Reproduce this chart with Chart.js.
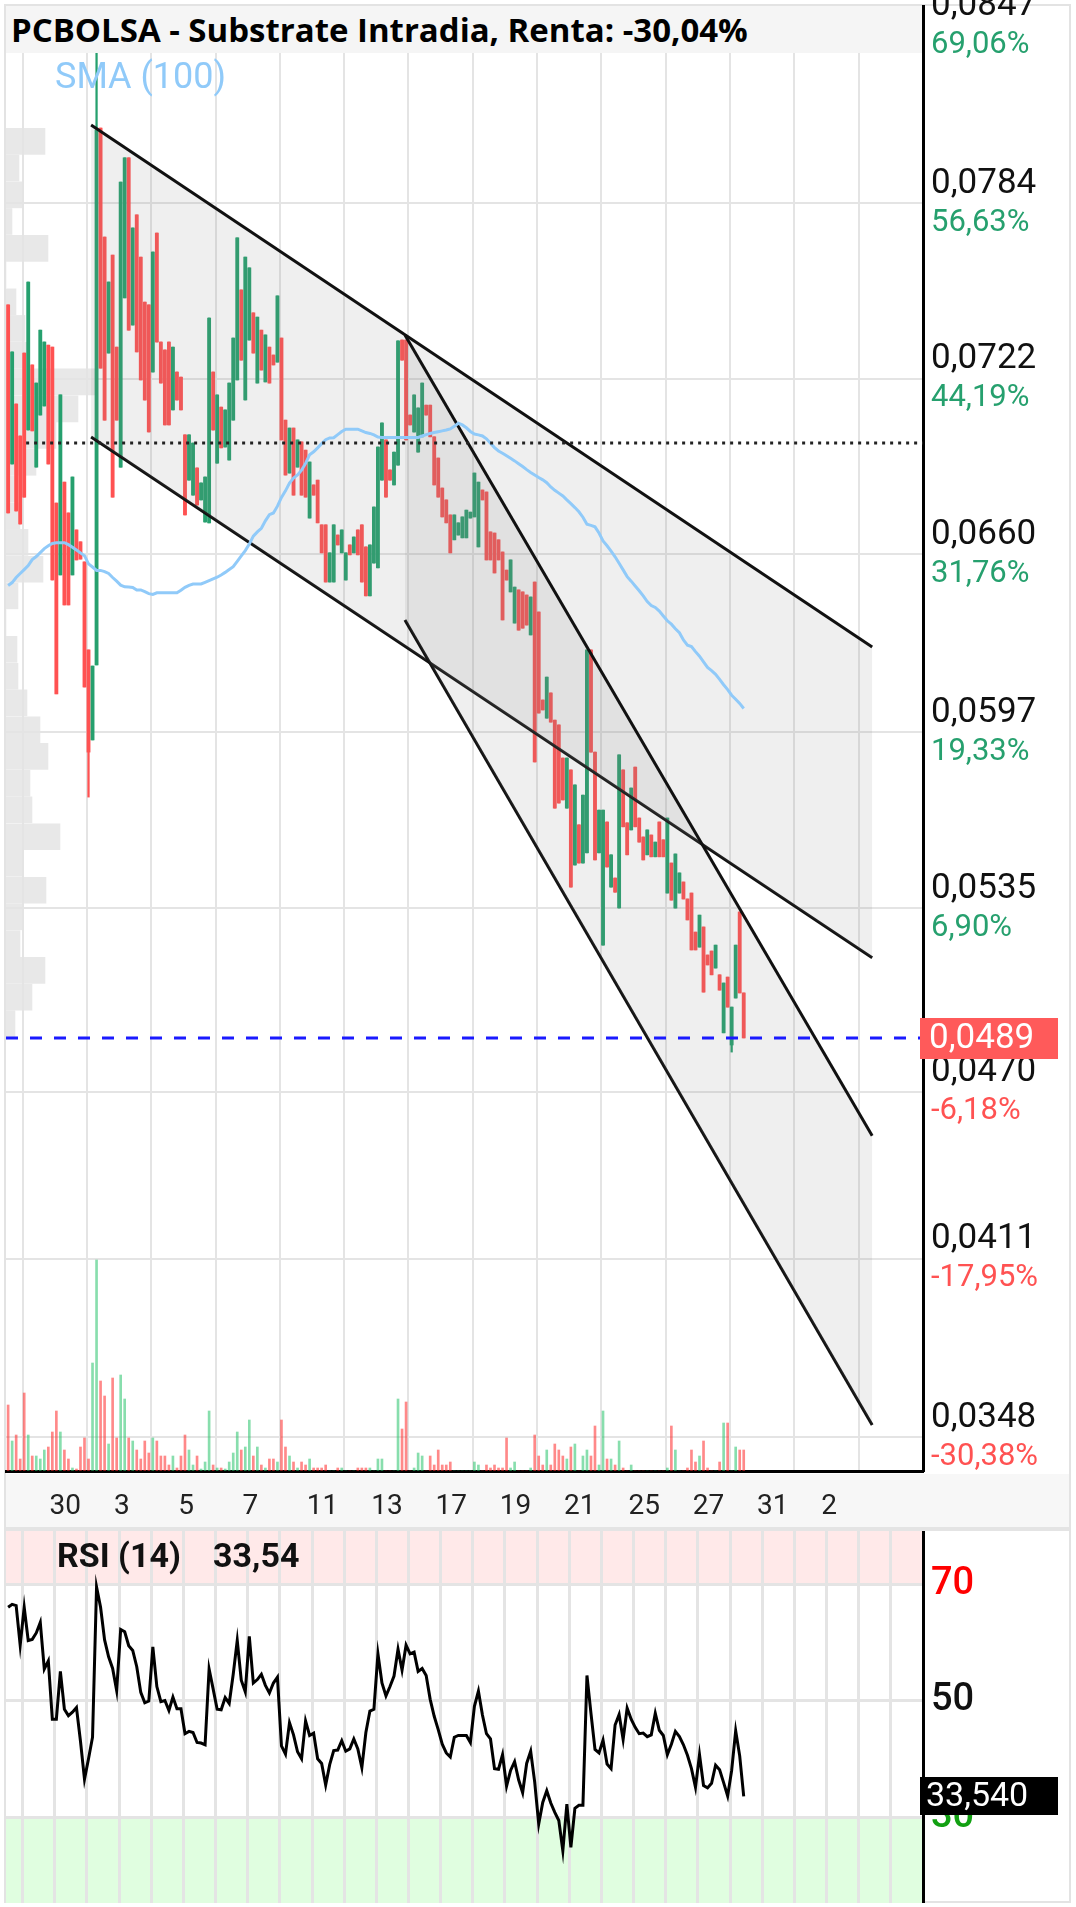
<!DOCTYPE html>
<html>
<head>
<meta charset="utf-8">
<title>PCBOLSA - Substrate Intradia</title>
<script src="https://cdn.jsdelivr.net/npm/chart.js@4.4.1/dist/chart.umd.min.js"></script>
<style>
  html, body { margin:0; padding:0; background:#fff; }
  body { position:relative; width:1076px; height:1907px; overflow:hidden; font-family:Roboto, sans-serif; }
  .abs { position:absolute; }
  #frame { left:4px; top:4px; width:1067px; height:1899px; border:2px solid #e3e3e3; box-sizing:border-box; }
  #xstrip { left:6px; top:1474px; width:1063px; height:53px; background:#f7f7f7; }
  #sep { left:6px; top:1527px; width:1063px; height:4px; background:#e4e4e4; }
  #profile { left:6px; top:6px; }
  #main { left:0; top:0; }
  #rsi { left:0; top:1531px; }
  #title { left:6px; top:6px; width:916px; height:47px; background:#f5f5f5; }
  #titleText { position:absolute; left:5px; top:0; line-height:47px; font-family:'Open Sans'; font-weight:700; font-size:28px; color:#000; white-space:nowrap; }
  #smaLabel { left:55px; top:58px; font-family:Roboto; font-size:36px; line-height:36px; color:rgb(144,202,249); white-space:nowrap; }
  #rsiLabel { left:57px; top:1538px; font-family:Roboto; font-weight:700; font-size:34px; line-height:34px; color:#111; white-space:nowrap; }
  #rsiValue { left:213px; top:1538px; font-family:Roboto; font-weight:700; font-size:34px; line-height:34px; color:#111; white-space:nowrap; }
</style>
</head>
<body>
<div id="frame" class="abs"></div>
<div id="xstrip" class="abs"></div>
<div id="sep" class="abs"></div>
<canvas id="profile" class="abs" width="917" height="1465"></canvas>
<canvas id="main" class="abs" width="1076" height="1527"></canvas>
<canvas id="rsi" class="abs" width="1076" height="372"></canvas>
<div id="title" class="abs"><span id="titleText">PCBOLSA - Substrate Intradia, Renta: -30,04%</span></div>
<div id="smaLabel" class="abs">SMA (100)</div>
<div id="rsiLabel" class="abs">RSI (14)</div>
<div id="rsiValue" class="abs">33,54</div>
<script>
// ---------------- DATA ----------------
const xLabels = ['30','3','5','7','11','13','17','19','21','25','27','31','2'];
const priceTicks = [0.0847, 0.0784, 0.0722, 0.0660, 0.0597, 0.0535, 0.0470, 0.0411, 0.0348];
const pctLabels = ['69,06%','56,63%','44,19%','31,76%','19,33%','6,90%','-6,18%','-17,95%','-30,38%'];
const rsiLevels = [70, 50, 30];

const opens = [0.07480,0.06918,0.07130,0.07017,0.07310,0.07038,0.07268,0.06907,0.07091,0.07123,
0.07338,0.07331,0.06780,0.06526,0.06854,0.06745,0.06526,0.06685,0.06643,0.06572,
0.06261,0.05943,0.06208,0.08105,0.07720,0.07310,0.07656,0.07331,0.06907,0.07505,
0.08000,0.07409,0.07798,0.07649,0.07490,0.07480,0.07243,0.07734,0.07349,0.07321,
0.07349,0.07109,0.07243,0.07225,0.07021,0.06861,0.06808,0.06904,0.06791,0.06713,
0.06710,0.07243,0.06921,0.07119,0.06978,0.06932,0.07073,0.07215,0.07533,0.07144,
0.07356,0.07452,0.07204,0.07391,0.07208,0.07331,0.07303,0.07278,0.07363,0.07073,
0.06886,0.07045,0.06907,0.06996,0.06967,0.06727,0.06844,0.06861,0.06703,0.06703,
0.06501,0.06501,0.06667,0.06604,0.06508,0.06632,0.06604,0.06685,0.06703,0.06625,
0.06452,0.06568,0.06551,0.06861,0.07003,0.06897,0.06844,0.06914,0.07356,0.07356,
0.07091,0.07031,0.06960,0.07014,0.07126,0.07126,0.07014,0.06939,0.06833,0.06791,
0.06738,0.06650,0.06667,0.06657,0.06657,0.06727,0.06731,0.06625,0.06826,0.06819,
0.06678,0.06674,0.06650,0.06607,0.06543,0.06466,0.06356,0.06473,0.06466,0.06455,
0.06314,0.06501,0.06395,0.06084,0.06020,0.06109,0.06013,0.05996,0.05879,0.05702,
0.05837,0.05501,0.05643,0.05508,0.05544,0.06261,0.05900,0.05544,0.05218,0.05653,
0.05423,0.05455,0.05349,0.05837,0.05650,0.05625,0.05847,0.05667,0.05600,0.05537,
0.05607,0.05530,0.05653,0.05590,0.05402,0.05508,0.05349,0.05402,0.05441,0.05381,
0.05402,0.05264,0.05211,0.05282,0.05183,0.05197,0.05137,0.05113,0.04908,0.05105,
0.04865,0.05031,0.05335,0.05049];

const closes = [0.06745,0.07314,0.06752,0.06706,0.06801,0.07561,0.07035,0.07204,0.07391,0.07349,
0.06918,0.06508,0.06106,0.07162,0.06420,0.06420,0.06872,0.06579,0.06582,0.06130,
0.05900,0.06204,0.08098,0.07257,0.07073,0.07561,0.06801,0.07073,0.07914,0.08000,
0.07391,0.07752,0.07314,0.07215,0.07144,0.07031,0.07667,0.07349,0.07204,0.07056,
0.07056,0.07331,0.07144,0.07109,0.06738,0.07021,0.06992,0.06773,0.06851,0.06872,
0.07434,0.07038,0.07162,0.06975,0.07109,0.07204,0.07363,0.07717,0.07285,0.07649,
0.07611,0.07310,0.07437,0.07250,0.07374,0.07204,0.07268,0.07512,0.07003,0.06879,
0.07045,0.06808,0.07003,0.06808,0.06801,0.06925,0.06808,0.06710,0.06604,0.06501,
0.06604,0.06703,0.06632,0.06685,0.06604,0.06597,0.06660,0.06597,0.06501,0.06452,
0.06632,0.06766,0.06978,0.07063,0.06801,0.06861,0.06960,0.07353,0.07285,0.07003,
0.07056,0.07162,0.07116,0.07204,0.07091,0.07014,0.06844,0.06801,0.06731,0.06710,
0.06604,0.06738,0.06710,0.06731,0.06755,0.06748,0.06886,0.06854,0.06791,0.06579,
0.06579,0.06533,0.06579,0.06367,0.06508,0.06579,0.06483,0.06331,0.06338,0.06349,
0.06448,0.05865,0.06038,0.06049,0.06165,0.06006,0.05702,0.05720,0.05731,0.05879,
0.05423,0.05784,0.05508,0.05748,0.06261,0.05900,0.05519,0.05695,0.05695,0.05494,
0.05537,0.05405,0.05890,0.05636,0.05537,0.05773,0.05636,0.05582,0.05519,0.05625,
0.05530,0.05582,0.05530,0.05530,0.05667,0.05377,0.05540,0.05473,0.05381,0.05307,
0.05201,0.05201,0.05324,0.05052,0.05148,0.05113,0.05218,0.05059,0.05084,0.04999,
0.04999,0.05218,0.05049,0.04890];

// wicks that reach beyond the candle body (candle index -> price)
const wickHighs = {22: 0.08374};
const wickLows = {20: 0.05741, 180: 0.04840};

// volume, thousands of shares
const volumes = [66,30,36,12,78,36,15,15,12,21,
24,39,60,39,21,12,3,2,24,33,
12,108,211,90,75,27,93,33,96,72,
33,30,21,12,30,18,33,30,15,15,
6,15,3,15,36,21,6,15,2,9,
60,6,3,3,2,9,18,39,21,24,
51,15,24,6,3,12,12,9,51,24,
15,9,3,9,6,12,3,3,3,6,
0,0,3,3,0,0,0,3,3,3,
3,0,12,12,0,0,0,72,42,69,
0,3,18,15,0,15,6,21,6,6,
9,0,0,0,0,0,9,6,0,6,
3,6,3,3,33,3,9,0,0,0,
3,36,15,6,21,6,27,21,15,12,
24,27,0,15,21,15,45,6,60,12,
12,6,30,3,0,6,0,0,0,0,
0,0,0,0,3,45,21,0,0,3,
21,9,15,30,3,0,0,9,48,48,
0,24,21,21];

const sma100 = [0.06489,0.06499,0.06517,0.06531,0.06545,0.06559,0.06580,0.06591,0.06605,0.06619,
0.06629,0.06637,0.06640,0.06640,0.06640,0.06633,0.06624,0.06614,0.06604,0.06594,
0.06565,0.06554,0.06542,0.06542,0.06538,0.06531,0.06517,0.06504,0.06490,0.06484,
0.06483,0.06482,0.06473,0.06473,0.06467,0.06460,0.06457,0.06463,0.06463,0.06463,
0.06463,0.06463,0.06463,0.06472,0.06482,0.06489,0.06494,0.06494,0.06494,0.06500,
0.06506,0.06512,0.06518,0.06526,0.06535,0.06545,0.06555,0.06574,0.06593,0.06612,
0.06635,0.06663,0.06678,0.06691,0.06717,0.06739,0.06745,0.06769,0.06800,0.06823,
0.06851,0.06868,0.06879,0.06896,0.06920,0.06951,0.06961,0.06975,0.06990,0.07004,
0.07010,0.07011,0.07022,0.07033,0.07041,0.07041,0.07041,0.07041,0.07035,0.07029,
0.07026,0.07021,0.07013,0.07012,0.07012,0.07012,0.07012,0.07012,0.07012,0.07012,
0.07012,0.07012,0.07012,0.07017,0.07022,0.07026,0.07029,0.07032,0.07035,0.07038,
0.07042,0.07051,0.07062,0.07056,0.07046,0.07033,0.07024,0.07021,0.07017,0.07007,
0.06991,0.06976,0.06964,0.06956,0.06947,0.06938,0.06929,0.06919,0.06909,0.06898,
0.06888,0.06879,0.06870,0.06862,0.06852,0.06837,0.06825,0.06815,0.06805,0.06791,
0.06778,0.06764,0.06749,0.06730,0.06705,0.06701,0.06696,0.06674,0.06646,0.06629,
0.06610,0.06590,0.06567,0.06544,0.06520,0.06504,0.06487,0.06470,0.06452,0.06432,
0.06418,0.06411,0.06398,0.06381,0.06364,0.06352,0.06336,0.06322,0.06296,0.06278,
0.06273,0.06255,0.06239,0.06219,0.06199,0.06188,0.06175,0.06157,0.06138,0.06121,
0.06101,0.06087,0.06072,0.06054];

const rsi14 = [66.0,66.5,66.3,59.5,66.0,60.3,60.5,61.6,63.4,55.4,
56.8,46.8,46.8,55.0,48.5,47.4,48.0,48.8,43.0,36.5,
40.0,43.7,69.5,66.0,60.4,57.5,55.5,51.7,62.2,61.8,
59.4,58.6,55.8,51.4,49.6,49.9,59.2,52.4,49.8,50.0,
48.3,50.6,48.6,48.6,44.3,44.7,44.5,42.8,42.7,42.4,
55.4,52.0,48.5,48.4,50.5,49.5,54.5,60.3,53.5,51.5,
61.0,53.0,53.6,54.5,52.6,51.3,53.0,54.0,42.2,40.8,
46.2,44.1,41.2,40.0,46.5,44.0,44.4,40.0,39.2,35.5,
39.0,41.4,41.5,43.1,41.3,41.7,43.4,41.7,38.5,44.5,
48.2,48.5,58.0,53.0,50.8,52.4,54.2,58.8,55.2,59.5,
58.0,58.3,55.0,55.5,54.3,50.2,47.3,45.0,42.5,41.0,
40.3,43.7,44.0,44.0,44.0,42.8,49.0,51.6,47.5,44.3,
43.4,38.3,38.2,40.7,35.3,38.0,39.5,36.4,34.2,39.2,
41.3,36.0,28.8,32.5,34.5,32.4,30.8,29.4,24.2,32.2,
24.8,31.5,32.0,32.0,54.3,47.8,41.6,41.0,43.2,39.1,
38.3,45.8,47.6,43.3,48.7,46.8,45.4,44.3,44.4,43.8,
44.1,47.8,44.9,44.0,40.7,42.5,44.7,43.8,42.4,40.6,
38.3,35.1,40.7,35.4,35.0,35.8,38.9,38.1,35.9,33.6,
38.0,44.8,40.5,33.54];

// volume profile (price level -> traded volume, thousands)
const profileLevels = [0.08058,0.07964,0.07869,0.07775,0.07680,0.07586,0.07491,0.07397,0.07302,0.07208,
0.07113,0.07019,0.06924,0.06830,0.06735,0.06641,0.06546,0.06452,0.06357,0.06263,
0.06168,0.06074,0.05979,0.05885,0.05790,0.05696,0.05601,0.05507,0.05412,0.05318,
0.05223,0.05129,0.05034,0.04940];
const profileVolumes = [39,13,17,6,42,0,10,19,21,91,
72,50,30,12,14,22,37,12,0,11,
12,21,34,42,24,26,54,17,40,16,
14,39,26,9];

// drawings (time in trading days from the "30" session, price)
const channel1Days = [2.13, 26.42];
const channel1Top = [0.08116, 0.06271];
const channel1Bottom = [0.07013, 0.05173];
const channel2Days = [11.89, 26.42];
const channel2Top = [0.07374, 0.04544];
const channel2Bottom = [0.06367, 0.03522];
const pivotLevel = 0.06992;
const pivotFromDay = 0.11;

// ---------------- LAYOUT / STYLE ----------------
const X_MIN = -0.516, X_MAX = 28;
const Y_MIN = 0.033598, Y_MAX = 0.085363;
const GREEN = '#26a06e', RED = '#ff5252';
const VGREEN = 'rgba(38,194,106,0.55)', VRED = 'rgba(255,40,40,0.55)';
const FILL = 'rgba(128,128,128,0.13)';
const GRID = '#e4e4e4';
const N = closes.length;
const slotDays = closes.map((_, i) => -0.45 + i / 8);   // 8 intraday bars per session
const isUp = i => closes[i] >= opens[i];
const lastClose = closes[N - 1];
const fmtPrice = v => v.toFixed(4).replace('.', ',');

Chart.defaults.font.family = 'Roboto';
Chart.defaults.animation = false;

const mainDayTicks = []; for (let d = 0; d <= 26; d += 2) mainDayTicks.push(d);
const rsiDayTicks = []; for (let d = 0; d <= 27; d += 1) rsiDayTicks.push(d);

const zeroPad = s => { s.paddingLeft = 0; s.paddingRight = 0; s.paddingTop = 0; s.paddingBottom = 0; };

// title auto-fit to the reference width
(function () {
  const t = document.getElementById('titleText');
  const w = t.getBoundingClientRect().width;
  if (w > 0) t.style.fontSize = (28 * 737 / w).toFixed(2) + 'px';
})();

// ---------------- VOLUME PROFILE (behind) ----------------
new Chart(document.getElementById('profile'), {
  type: 'bar',
  data: { datasets: [{
    data: profileLevels.map((p, i) => ({ x: profileVolumes[i], y: p })),
    backgroundColor: '#e8e8e8', borderWidth: 0, barThickness: 26
  }] },
  options: {
    indexAxis: 'y', responsive: false, events: [],
    layout: { padding: 0 },
    plugins: { legend: { display: false }, tooltip: { enabled: false } },
    scales: {
      x: { type: 'linear', min: 0, max: 917, display: false },
      y: { type: 'linear', min: Y_MIN, max: Y_MAX, display: false, offset: false }
    }
  }
});

// ---------------- MAIN PRICE CHART ----------------
// percentage labels under each price tick of the right axis
const pctAxisLabels = {
  id: 'pctAxisLabels',
  afterDraw(chart) {
    const s = chart.scales.y, { ctx } = chart;
    ctx.save();
    ctx.font = '31px Roboto';
    ctx.textBaseline = 'middle';
    ctx.textAlign = 'left';
    s.ticks.forEach((t, i) => {
      const lbl = pctLabels[i];
      if (!lbl) return;
      ctx.fillStyle = lbl.startsWith('-') ? RED : GREEN;
      ctx.fillText(lbl, s.left + 8, s.getPixelForValue(t.value) + 20);
    });
    ctx.restore();
  }
};
const lastPriceBox = {
  id: 'lastPriceBox',
  afterDraw(chart) {
    const { ctx } = chart;
    const y = chart.scales.y.getPixelForValue(lastClose);
    ctx.save();
    ctx.fillStyle = 'rgb(255,90,90)';
    ctx.fillRect(920, Math.round(y - 20), 138, 41);
    ctx.fillStyle = '#fff';
    ctx.font = '35px Roboto';
    ctx.textBaseline = 'middle';
    ctx.textAlign = 'left';
    ctx.fillText(fmtPrice(lastClose), 929, y + 1);
    ctx.restore();
  }
};

const lineDs = (data, extra) => Object.assign({
  type: 'line', data, borderColor: '#111', borderWidth: 3, pointRadius: 0,
  tension: 0, fill: false, backgroundColor: FILL
}, extra);

new Chart(document.getElementById('main'), {
  type: 'line',
  data: { datasets: [
    lineDs(channel1Days.map((d, i) => ({ x: d, y: channel1Top[i] })), { fill: '+1', order: 4 }),
    lineDs(channel1Days.map((d, i) => ({ x: d, y: channel1Bottom[i] })), { order: 4 }),
    lineDs(channel2Days.map((d, i) => ({ x: d, y: channel2Top[i] })), { fill: '+1', order: 3 }),
    lineDs(channel2Days.map((d, i) => ({ x: d, y: channel2Bottom[i] })), { order: 3 }),
    lineDs(slotDays.map((d, i) => ({ x: d, y: sma100[i] })), { borderColor: 'rgb(144,202,249)', order: 2 }),
    lineDs([{ x: pivotFromDay, y: pivotLevel }, { x: X_MAX, y: pivotLevel }], { borderColor: '#222', borderDash: [3, 5], order: 1 }),
    lineDs([{ x: X_MIN, y: lastClose }, { x: X_MAX, y: lastClose }], { borderColor: '#1a1aff', borderDash: [12, 12], order: 0 }),
    { type: 'bar', yAxisID: 'yVol', grouped: false, order: 8, barThickness: 2, borderWidth: 0,
      data: slotDays.map((d, i) => ({ x: d, y: volumes[i] })),
      backgroundColor: c => isUp(c.dataIndex) ? VGREEN : VRED },
    { type: 'bar', grouped: false, order: 7, barThickness: 1.6, borderWidth: 0, borderSkipped: false,
      data: slotDays.map((d, i) => ({ x: d, y: [
        wickLows[i] !== undefined ? wickLows[i] : Math.min(opens[i], closes[i]),
        wickHighs[i] !== undefined ? wickHighs[i] : Math.max(opens[i], closes[i]) ] })),
      backgroundColor: c => isUp(c.dataIndex) ? GREEN : RED },
    { type: 'bar', grouped: false, order: 6, barThickness: 3.2, borderWidth: 0, borderSkipped: false,
      data: slotDays.map((d, i) => ({ x: d, y: [opens[i], closes[i]] })),
      backgroundColor: c => isUp(c.dataIndex) ? GREEN : RED }
  ] },
  options: {
    responsive: false, events: [],
    layout: { padding: { left: 6, top: 6, right: 0, bottom: 0 } },
    plugins: { legend: { display: false }, tooltip: { enabled: false } },
    scales: {
      x: {
        type: 'linear', min: X_MIN, max: X_MAX, offset: false, position: 'bottom',
        afterBuildTicks: s => { s.ticks = mainDayTicks.map(v => ({ value: v })); },
        ticks: { autoSkip: false, maxRotation: 0, minRotation: 0, align: 'start', labelOffset: 27, padding: 19,
                 font: { size: 28 }, color: '#222', callback: (v, i) => xLabels[i] !== undefined ? xLabels[i] : '' },
        grid: { color: GRID, lineWidth: 2, drawTicks: false, offset: false },
        border: { display: true, color: '#000', width: 3 },
        afterFit: s => { s.height = 56; zeroPad(s); }
      },
      y: {
        type: 'linear', position: 'right', min: Y_MIN, max: Y_MAX, beginAtZero: false,
        afterBuildTicks: s => { s.ticks = priceTicks.map(v => ({ value: v })); },
        ticks: { autoSkip: false, padding: 8, labelOffset: -19, font: { size: 35 }, color: '#111',
                 callback: v => fmtPrice(v) },
        grid: { color: GRID, lineWidth: 2, drawTicks: false },
        border: { display: true, color: '#000', width: 3 },
        afterFit: s => { s.width = 153; zeroPad(s); }
      },
      yVol: { type: 'linear', min: 0, max: 1465, display: false, beginAtZero: true }
    }
  },
  plugins: [pctAxisLabels, lastPriceBox]
});

// ---------------- RSI PANEL ----------------
const rsiBands = {
  id: 'rsiBands',
  beforeDraw(chart) {
    const { ctx, chartArea: a, scales: { y } } = chart;
    const y70 = y.getPixelForValue(70), y30 = y.getPixelForValue(30);
    ctx.save();
    ctx.fillStyle = '#ffe9e9';
    ctx.fillRect(a.left, a.top, a.right - a.left, y70 - a.top);
    ctx.fillStyle = '#e0fee0';
    ctx.fillRect(a.left, y30, a.right - a.left, a.bottom - y30);
    ctx.restore();
  }
};
const rsiLastBox = {
  id: 'rsiLastBox',
  afterDraw(chart) {
    const { ctx } = chart;
    const v = rsi14[rsi14.length - 1];
    const y = chart.scales.y.getPixelForValue(v);
    ctx.save();
    ctx.fillStyle = '#000';
    ctx.fillRect(920, Math.round(y - 19), 138, 38);
    ctx.fillStyle = '#fff';
    ctx.font = '34px Roboto';
    ctx.textBaseline = 'middle';
    ctx.fillText(v.toFixed(3).replace('.', ','), 926, y + 1);
    ctx.restore();
  }
};
const rsiColors = ['#ff0000', '#111111', '#12a012'];

new Chart(document.getElementById('rsi'), {
  type: 'line',
  data: { datasets: [{
    data: slotDays.map((d, i) => ({ x: d, y: rsi14[i] })),
    borderColor: '#000', borderWidth: 3, pointRadius: 0, tension: 0, fill: false
  }] },
  options: {
    responsive: false, events: [],
    layout: { padding: { left: 6, top: 0, right: 0, bottom: 0 } },
    plugins: { legend: { display: false }, tooltip: { enabled: false } },
    scales: {
      x: {
        type: 'linear', min: X_MIN, max: X_MAX,
        afterBuildTicks: s => { s.ticks = rsiDayTicks.map(v => ({ value: v })); },
        ticks: { display: false },
        grid: { color: GRID, lineWidth: 3, drawTicks: false },
        border: { display: false },
        afterFit: s => { s.height = 0; zeroPad(s); }
      },
      y: {
        type: 'linear', position: 'right', min: 15.24, max: 79.1,
        afterBuildTicks: s => { s.ticks = rsiLevels.map(v => ({ value: v })); },
        ticks: { autoSkip: false, padding: 8, font: { size: 38, weight: '500' },
                 color: c => rsiColors[c.index], callback: v => String(v) },
        grid: { color: GRID, lineWidth: 3, drawTicks: false },
        border: { display: true, color: '#000', width: 3 },
        afterFit: s => { s.width = 153; zeroPad(s); }
      }
    }
  },
  plugins: [rsiBands, rsiLastBox]
});
</script>
</body>
</html>
